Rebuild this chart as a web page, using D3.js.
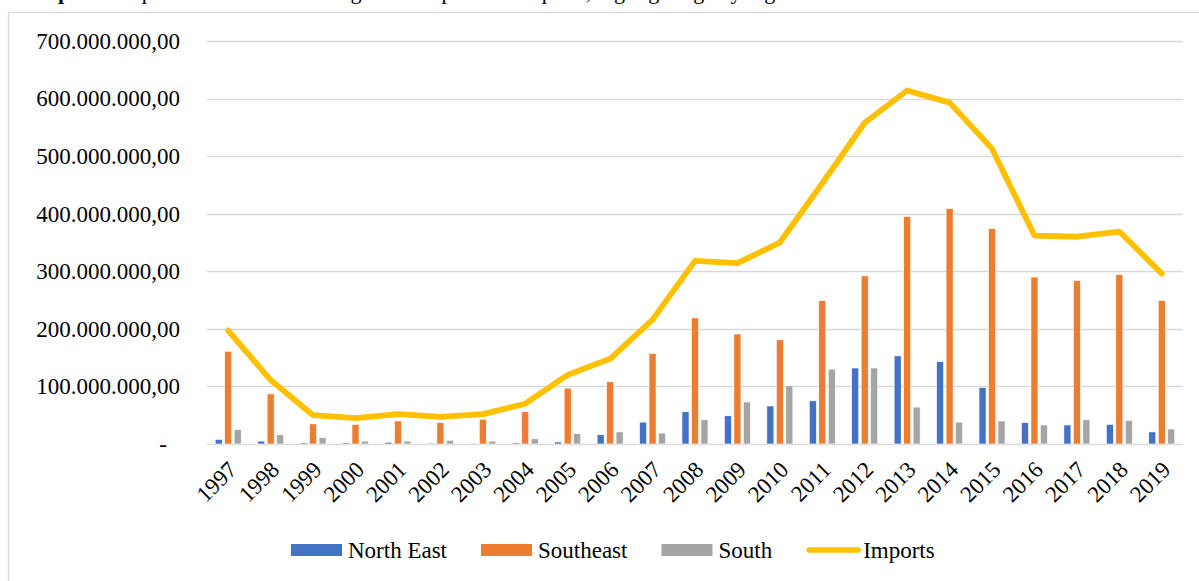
<!DOCTYPE html>
<html>
<head>
<meta charset="utf-8">
<title>Imports by region</title>
<script src="https://cdn.jsdelivr.net/npm/d3@7"></script>
<style>
  body { margin: 0; background: #fff; }
  svg text { font-family: 'Liberation Serif', 'Times New Roman', serif; }
</style>
</head>
<body>
<div id="chart"></div>
<script>
// values in millions
var years = ["1997","1998","1999","2000","2001","2002","2003","2004","2005","2006","2007","2008",
             "2009","2010","2011","2012","2013","2014","2015","2016","2017","2018","2019"];
var northEast = [8, 5, 2, 2, 3, 1.5, 1.5, 2, 3.5, 16, 38, 56, 49, 66, 75, 132, 153, 143, 98, 37, 33, 34, 21];
var southeast = [161, 87, 35, 34, 40, 37, 43, 56, 97, 108, 157, 219, 191, 181, 249, 292, 395, 409, 374, 290, 284, 294, 249];
var south     = [25, 16, 11, 5, 5, 6.4, 5, 9, 18, 21, 19, 42, 73, 101, 130, 132, 64, 38, 40, 33, 42, 41, 26];
var imports   = [197, 111, 50, 45, 52, 47, 52, 70, 120, 148, 216, 318, 314, 350, 453, 558, 614, 593, 513, 362, 360, 369, 296];
var yTicks = [0, 100, 200, 300, 400, 500, 600, 700];
var seriesNames = ["North East", "Southeast", "South"];
var UNIT = 1e6;

importsChart('#chart', 1199, 581);

function importsChart(id, width, height)
{
    var colors = { "North East": "#4472C4", "Southeast": "#ED7D31", "South": "#A5A5A5", "Imports": "#FFC000" };
    var fontSize = 23;
    var serif = "'Liberation Serif', 'Times New Roman', serif";

    var svg = d3.select(id).append("svg")
                .attr("width", width)
                .attr("height", height)
                .attr("font-family", serif);

    // caption cut off at the top of the picture
    var cap = svg.append("text")
                 .attr("x", 20)
                 .attr("y", -1)
                 .style("font-size", "22px")
                 .attr("fill", "#000");
    cap.append("tspan").style("font-weight", "bold").text("Graph 1 - ");
    cap.append("tspan").text("Imports of the Brazilian regions compared to imports, highlighting key regions");

    // chart frame
    svg.append("rect")
       .attr("x", 8.5).attr("y", 12.5)
       .attr("width", width + 20).attr("height", height + 20)
       .attr("fill", "none")
       .attr("stroke", "#D9D9D9")
       .attr("stroke-width", 1.3);

    var fmt = d3.formatLocale({ decimal: ",", thousands: ".", grouping: [3], currency: ["", ""] }).format(",.2f");

    var x0 = d3.scaleBand().domain(years).range([207, 1183]);
    var x1 = d3.scaleBand().domain(seriesNames).range([8.2, 34.2]).paddingInner(0.26);
    var y = d3.scaleLinear().domain([0, 700 * UNIT]).range([444, 41]);

    // gridlines
    svg.append("g").selectAll("line")
       .data(yTicks)
      .enter().append("line")
       .attr("x1", 207).attr("x2", 1183)
       .attr("y1", function(d) { return Math.round(y(d * UNIT)) + 0.5; })
       .attr("y2", function(d) { return Math.round(y(d * UNIT)) + 0.5; })
       .attr("stroke", "#D9D9D9")
       .attr("stroke-width", function(d) { return d === 0 ? 1.6 : 1.3; });

    // y axis labels
    var yAxis = svg.append("g")
       .attr("transform", "translate(207,0)")
       .call(d3.axisLeft(y)
               .tickValues(yTicks.map(function(d) { return d * UNIT; }))
               .tickSize(0)
               .tickPadding(27)
               .tickFormat(function(d) { return d === 0 ? "-" : fmt(d); }));
    yAxis.attr("font-family", serif).attr("font-size", fontSize);
    yAxis.select(".domain").remove();
    yAxis.selectAll("text")
       .attr("fill", "#000")
       .attr("dx", function(d) { return d === 0 ? -13 : 0; });

    // bars
    var rows = seriesNames.map(function(name, i) {
        var vals = [northEast, southeast, south][i];
        return years.map(function(yr, j) { return { name: name, year: yr, value: vals[j] * UNIT }; });
    });
    svg.append("g").selectAll("g")
       .data(rows)
      .enter().append("g")
       .attr("fill", function(d) { return colors[d[0].name]; })
      .selectAll("rect")
       .data(function(d) { return d; })
      .enter().append("rect")
       .attr("x", function(d) { return x0(d.year) + x1(d.name); })
       .attr("y", function(d) { return y(d.value); })
       .attr("width", x1.bandwidth())
       .attr("height", function(d) { return y(0) - y(d.value); })
       .attr("stroke", "#fff")
       .attr("stroke-width", 0.6);

    // imports line
    var line = d3.line()
        .x(function(d, i) { return x0(years[i]) + x0.bandwidth() / 2; })
        .y(function(d) { return y(d * UNIT); });
    svg.append("path")
       .datum(imports)
       .attr("d", line)
       .attr("fill", "none")
       .attr("stroke", colors["Imports"])
       .attr("stroke-width", 5.8)
       .attr("stroke-linejoin", "round")
       .attr("stroke-linecap", "round");

    // x axis labels
    var xAxis = svg.append("g")
       .attr("transform", "translate(0,444)")
       .call(d3.axisBottom(x0).tickSize(0).tickPadding(0));
    xAxis.attr("font-family", serif).attr("font-size", fontSize);
    xAxis.select(".domain").remove();
    xAxis.selectAll("text")
       .attr("fill", "#000")
       .attr("text-anchor", "end")
       .attr("y", 0).attr("dy", 0)
       .attr("transform", "translate(10,27) rotate(-45)");

    // legend
    var legendItems = ["North East", "Southeast", "South", "Imports"];
    var legend = svg.append("g").attr("transform", "translate(291,550)");
    var lx = 0;
    legendItems.forEach(function(name) {
        var g = legend.append("g").attr("transform", "translate(" + lx + ",0)");
        if (name === "Imports") {
            g.append("line")
             .attr("x1", 3).attr("x2", 52).attr("y1", 0).attr("y2", 0)
             .attr("stroke", colors[name]).attr("stroke-width", 5.5)
             .attr("stroke-linecap", "round");
        } else {
            g.append("rect")
             .attr("x", 0).attr("y", -6)
             .attr("width", 51).attr("height", 12)
             .attr("fill", colors[name]);
        }
        var t = g.append("text")
             .attr("x", 57).attr("y", 0).attr("dy", "0.35em")
             .attr("font-size", fontSize)
             .attr("fill", "#000")
             .text(name);
        lx += 57 + t.node().getComputedTextLength() + 34;
    });
}
</script>
</body>
</html>
